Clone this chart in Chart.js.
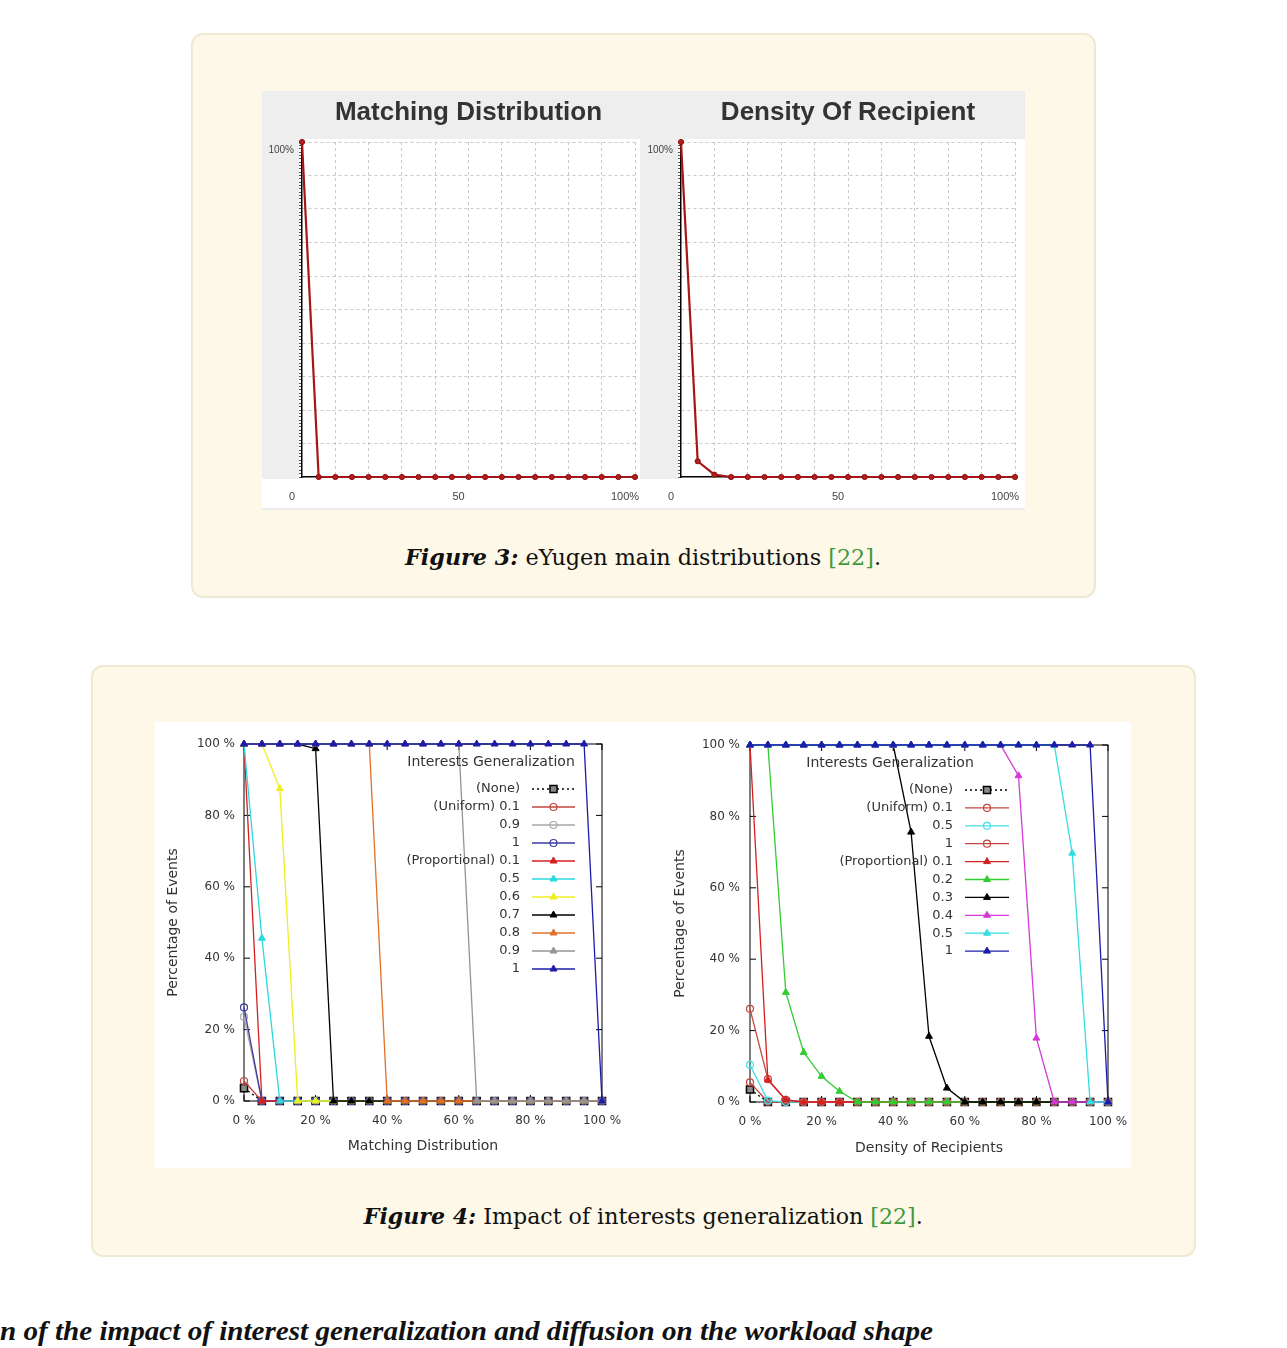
<!DOCTYPE html>
<html>
<head>
<meta charset="utf-8">
<title>eYugen distributions / interests generalization</title>
<script src="https://cdn.jsdelivr.net/npm/chart.js@4.4.1/dist/chart.umd.min.js"></script>
<style>
  html, body { margin: 0; padding: 0; background: #fff; }
  body { position: relative; width: 1287px; height: 1348px; overflow: hidden; }
  .box { position: absolute; box-sizing: border-box; background: #fdf8e7; border: 2px solid #efe9d3; border-radius: 12px; }
  .shot { position: absolute; }
  canvas { position: absolute; }
  .caption { position: absolute; text-align: center; font-family: "DejaVu Serif", serif; font-size: 22px; line-height: 28px; color: #111; white-space: nowrap; }
  .caption .fit { display: inline-block; transform-origin: center center; }
  .caption b { font-style: italic; }
  .ref { color: #3e9a3e; }
  .cut { position: absolute; left: 0; top: 1316px; font-family: "Liberation Serif", serif; font-weight: bold; font-style: italic; font-size: 27px; line-height: 30px; color: #111; white-space: nowrap; display: inline-block; transform-origin: left center; }
</style>
</head>
<body>

<div class="box" style="left:191px;top:33px;width:905px;height:565px"></div>
<div class="shot" style="left:262px;top:91px;width:763px;height:419px;background:#eeeeee"></div>
<canvas id="mainMatching" width="378" height="419" style="left:262px;top:91px"></canvas>
<canvas id="mainDensity" width="385" height="419" style="left:640px;top:91px"></canvas>
<div class="caption" style="left:191px;width:905px;top:543px"><span class="fit" data-w="476"><b>Figure 3:</b> eYugen main distributions <span class="ref">[22]</span>.</span></div>

<div class="box" style="left:91px;top:665px;width:1105px;height:592px"></div>
<div class="shot" style="left:155px;top:722px;width:976px;height:446px;background:#ffffff"></div>
<canvas id="genMatching" width="488" height="446" style="left:155px;top:722px"></canvas>
<canvas id="genDensity" width="488" height="446" style="left:643px;top:722px"></canvas>
<div class="caption" style="left:91px;width:1105px;top:1202px"><span class="fit" data-w="559"><b>Figure 4:</b> Impact of interests generalization <span class="ref">[22]</span>.</span></div>

<span class="cut" data-w="933">n of the impact of interest generalization and diffusion on the workload shape</span>

<script>
// x positions (percent) of every sample
const xSteps = [0, 5, 10, 15, 20, 25, 30, 35, 40, 45, 50, 55, 60, 65, 70, 75, 80, 85, 90, 95, 100];

// Figure 3 - eYugen main distributions
const mainMatching = [100, 0, 0, 0, 0, 0, 0, 0, 0, 0, 0, 0, 0, 0, 0, 0, 0, 0, 0, 0, 0];
const mainDensity  = [100, 4.7, 0.7, 0, 0, 0, 0, 0, 0, 0, 0, 0, 0, 0, 0, 0, 0, 0, 0, 0, 0];

// Figure 4 (left) - Matching Distribution
const matchLabels = ["(None)", "(Uniform) 0.1", "0.9", "1", "(Proportional) 0.1", "0.5", "0.6", "0.7", "0.8", "0.9", "1"];
const matchNone   = [3.6, 0, 0, 0, 0, 0, 0, 0, 0, 0, 0, 0, 0, 0, 0, 0, 0, 0, 0, 0, 0];
const matchUni01  = [5.6, 0, 0, 0, 0, 0, 0, 0, 0, 0, 0, 0, 0, 0, 0, 0, 0, 0, 0, 0, 0];
const matchUni09  = [23.6, 0, 0, 0, 0, 0, 0, 0, 0, 0, 0, 0, 0, 0, 0, 0, 0, 0, 0, 0, 0];
const matchUni1   = [26.2, 0, 0, 0, 0, 0, 0, 0, 0, 0, 0, 0, 0, 0, 0, 0, 0, 0, 0, 0, 0];
const matchProp01 = [100, 0, 0, 0, 0, 0, 0, 0, 0, 0, 0, 0, 0, 0, 0, 0, 0, 0, 0, 0, 0];
const matchProp05 = [100, 45.6, 0, 0, 0, 0, 0, 0, 0, 0, 0, 0, 0, 0, 0, 0, 0, 0, 0, 0, 0];
const matchProp06 = [100, 100, 87.5, 0, 0, 0, 0, 0, 0, 0, 0, 0, 0, 0, 0, 0, 0, 0, 0, 0, 0];
const matchProp07 = [100, 100, 100, 100, 98.7, 0, 0, 0, 0, 0, 0, 0, 0, 0, 0, 0, 0, 0, 0, 0, 0];
const matchProp08 = [100, 100, 100, 100, 100, 100, 100, 100, 0, 0, 0, 0, 0, 0, 0, 0, 0, 0, 0, 0, 0];
const matchProp09 = [100, 100, 100, 100, 100, 100, 100, 100, 100, 100, 100, 100, 100, 0, 0, 0, 0, 0, 0, 0, 0];
const matchProp1  = [100, 100, 100, 100, 100, 100, 100, 100, 100, 100, 100, 100, 100, 100, 100, 100, 100, 100, 100, 100, 0];

// Figure 4 (right) - Density of Recipients
const densLabels = ["(None)", "(Uniform) 0.1", "0.5", "1", "(Proportional) 0.1", "0.2", "0.3", "0.4", "0.5", "1"];
const densNone   = [3.5, 0, 0, 0, 0, 0, 0, 0, 0, 0, 0, 0, 0, 0, 0, 0, 0, 0, 0, 0, 0];
const densUni01  = [5.5, 0, 0, 0, 0, 0, 0, 0, 0, 0, 0, 0, 0, 0, 0, 0, 0, 0, 0, 0, 0];
const densUni05  = [10.4, 0.4, 0, 0, 0, 0, 0, 0, 0, 0, 0, 0, 0, 0, 0, 0, 0, 0, 0, 0, 0];
const densUni1   = [26.1, 6.4, 0.6, 0, 0, 0, 0, 0, 0, 0, 0, 0, 0, 0, 0, 0, 0, 0, 0, 0, 0];
const densProp01 = [100, 6.2, 0.6, 0, 0, 0, 0, 0, 0, 0, 0, 0, 0, 0, 0, 0, 0, 0, 0, 0, 0];
const densProp02 = [100, 100, 30.7, 13.9, 7.2, 3.0, 0, 0, 0, 0, 0, 0, 0, 0, 0, 0, 0, 0, 0, 0, 0];
const densProp03 = [100, 100, 100, 100, 100, 100, 100, 100, 100, 75.6, 18.4, 3.9, 0, 0, 0, 0, 0, 0, 0, 0, 0];
const densProp04 = [100, 100, 100, 100, 100, 100, 100, 100, 100, 100, 100, 100, 100, 100, 100, 91.4, 17.9, 0, 0, 0, 0];
const densProp05 = [100, 100, 100, 100, 100, 100, 100, 100, 100, 100, 100, 100, 100, 100, 100, 100, 100, 100, 69.7, 0, 0];
const densProp1  = [100, 100, 100, 100, 100, 100, 100, 100, 100, 100, 100, 100, 100, 100, 100, 100, 100, 100, 100, 100, 0];

const yTickStep = 20;

// styles (kept apart from the values)
const matchColors = ["#000000", "#c4453f", "#a8a8a8", "#3b3b9e", "#d42020", "#2ad8e0", "#eeee22", "#000000", "#e0702a", "#959595", "#1c1ca8"];
const matchMarks  = ["square", "ring", "ring", "ring", "tri", "tri", "tri", "tri", "tri", "tri", "tri"];
const densColors  = ["#000000", "#c4453f", "#44dde8", "#c4453f", "#d42020", "#33cc33", "#000000", "#d43ad8", "#33dde0", "#1c1ca8"];
const densMarks   = ["square", "ring", "ring", "ring", "tri", "tri", "tri", "tri", "tri", "tri"];

const GNU_FONT = "'DejaVu Sans', sans-serif";
const JAVA_FONT = "'Liberation Sans', Arial, sans-serif";

function toPoints(values) {
  return values.map((v, i) => ({ x: xSteps[i], y: v }));
}

// gray title band + white plot paper for the eYugen screenshots
const paperPlugin = {
  id: "paper",
  beforeDraw(chart) {
    const { ctx, chartArea: a, width, height } = chart;
    ctx.save();
    ctx.fillStyle = "#ffffff";
    ctx.fillRect(a.left - 3, a.top - 3, width - a.left + 3, height - a.top);
    ctx.fillRect(0, a.bottom + 2, width, height - a.bottom - 4);
    ctx.restore();
  }
};

// gnuplot style frame with inward ticks on all four sides
const framePlugin = {
  id: "gnuFrame",
  beforeDatasetsDraw(chart) {
    const { ctx, chartArea: a, scales: { x, y } } = chart;
    const t = 6;
    ctx.save();
    ctx.strokeStyle = "#000";
    ctx.lineWidth = 1;
    ctx.strokeRect(a.left, a.top, a.right - a.left, a.bottom - a.top);
    ctx.beginPath();
    y.ticks.forEach(tk => {
      const py = y.getPixelForValue(tk.value);
      ctx.moveTo(a.left, py); ctx.lineTo(a.left + t, py);
      ctx.moveTo(a.right, py); ctx.lineTo(a.right - t, py);
    });
    x.ticks.forEach(tk => {
      const px = x.getPixelForValue(tk.value);
      ctx.moveTo(px, a.bottom); ctx.lineTo(px, a.bottom - t);
      ctx.moveTo(px, a.top); ctx.lineTo(px, a.top + t);
    });
    ctx.stroke();
    ctx.restore();
  }
};

// gnuplot key: right aligned labels, sample line on the right
const keyPlugin = {
  id: "gnuKey",
  afterDatasetsDraw(chart, args, opts) {
    const { ctx, chartArea: a } = chart;
    ctx.save();
    ctx.fillStyle = "#333";
    ctx.textBaseline = "middle";
    ctx.textAlign = "center";
    ctx.font = "14px " + GNU_FONT;
    ctx.fillText(opts.title, a.left + opts.titleX, a.top + opts.titleY);
    ctx.font = "13px " + GNU_FONT;
    chart.data.datasets.forEach((ds, i) => {
      const y = a.top + opts.rowY + i * opts.rowDy;
      const x0 = a.left + opts.lineX0, x1 = a.left + opts.lineX1;
      ctx.textAlign = "right";
      ctx.fillStyle = "#333";
      ctx.fillText(ds.label, a.left + opts.textRight, y);
      ctx.strokeStyle = ds.borderColor;
      ctx.lineWidth = ds.borderWidth;
      ctx.setLineDash(ds.borderDash || []);
      ctx.beginPath(); ctx.moveTo(x0, y); ctx.lineTo(x1, y); ctx.stroke();
      ctx.setLineDash([]);
      ctx.fillStyle = ds.pointBackgroundColor;
      ctx.strokeStyle = ds.pointBorderColor;
      ctx.lineWidth = ds.pointBorderWidth;
      Chart.helpers.drawPoint(ctx, { pointStyle: ds.pointStyle, radius: ds.pointRadius, borderWidth: ds.pointBorderWidth, rotation: 0 }, (x0 + x1) / 2, y);
    });
    ctx.restore();
  }
};

function markerStyle(kind, color) {
  if (kind === "square") return { pointStyle: "rect", pointRadius: 5, pointBackgroundColor: "#8a8a8a", pointBorderColor: "#000", pointBorderWidth: 1.5 };
  if (kind === "ring") return { pointStyle: "circle", pointRadius: 3.5, pointBackgroundColor: "rgba(255,255,255,0)", pointBorderColor: color, pointBorderWidth: 1.2 };
  return { pointStyle: "triangle", pointRadius: 4, pointBackgroundColor: color, pointBorderColor: color, pointBorderWidth: 1 };
}

function mainChart(id, title, values, box) {
  return new Chart(document.getElementById(id), {
    type: "line",
    data: {
      datasets: [{
        data: toPoints(values),
        borderColor: "#a51616",
        borderWidth: 2.2,
        pointRadius: 2.6,
        pointBackgroundColor: "#b51c1c",
        pointBorderColor: "#8a1010",
        pointBorderWidth: 1,
        tension: 0,
        clip: 4
      }]
    },
    options: {
      responsive: false,
      animation: false,
      events: [],
      layout: { padding: { left: 0, right: box.right, top: 0, bottom: 0 } },
      plugins: {
        legend: { display: false },
        tooltip: { enabled: false },
        title: {
          display: true, text: title, fullSize: false, color: "#333",
          font: { family: JAVA_FONT, size: 26, weight: "bold" },
          padding: { top: 6, bottom: 13.8 }
        }
      },
      scales: {
        x: {
          type: "linear", min: 0, max: 100,
          ticks: {
            stepSize: 10, autoSkip: false, maxRotation: 0, labelOffset: -10, padding: 13,
            color: "#444", font: { family: JAVA_FONT, size: 11 },
            callback: v => v === 0 ? "0" : v === 50 ? "50" : v === 100 ? "100%" : ""
          },
          grid: { color: c => (c.tick && c.tick.value > 0) ? "#c8c8c8" : "rgba(0,0,0,0)", drawTicks: false, lineWidth: 1 },
          border: { color: "#000", width: 1.5, dash: [3, 3] },
          afterFit: s => { s.height = box.xAxisH; s.paddingLeft = 0; s.paddingRight = 0; }
        },
        y: {
          min: 0, max: 100,
          ticks: {
            stepSize: 1, maxTicksLimit: 101, autoSkip: false, labelOffset: 8, padding: 5,
            color: "#444", font: { family: JAVA_FONT, size: 10 },
            callback: v => v === 100 ? "100%" : ""
          },
          grid: {
            color: c => (c.tick && c.tick.value > 0 && c.tick.value % 10 === 0) ? "#c8c8c8" : "rgba(0,0,0,0)",
            tickColor: "#555", tickLength: 3, drawTicks: true, lineWidth: 1
          },
          border: { color: "#000", width: 1.5, dash: [3, 3] },
          afterFit: s => { s.width = box.yAxisW; s.paddingTop = 0; s.paddingBottom = 0; }
        }
      }
    },
    plugins: [paperPlugin]
  });
}

function gnuChart(id, labels, series, colors, marks, xTitle, box, key) {
  const n = series.length;
  const datasets = series.map((vals, i) => Object.assign({
    label: labels[i],
    data: toPoints(vals),
    borderColor: colors[i],
    borderWidth: 1.3,
    borderDash: marks[i] === "square" ? [2, 3] : [],
    tension: 0,
    clip: 8,
    order: n - i
  }, markerStyle(marks[i], colors[i])));

  const tickFont = { family: GNU_FONT, size: 12 };
  const titleFont = { family: GNU_FONT, size: 14 };
  return new Chart(document.getElementById(id), {
    type: "line",
    data: { datasets },
    options: {
      responsive: false,
      animation: false,
      events: [],
      layout: { padding: { left: 0, right: box.right, top: box.top, bottom: 0 } },
      plugins: { legend: { display: false }, tooltip: { enabled: false }, gnuKey: key },
      scales: {
        x: {
          type: "linear", min: 0, max: 100,
          ticks: { stepSize: yTickStep, maxRotation: 0, padding: 13, color: "#333", font: tickFont, callback: v => v + " %" },
          grid: { display: false, drawTicks: false },
          border: { display: false },
          title: { display: true, text: xTitle, color: "#333", font: titleFont, padding: { top: 0, bottom: box.xTitlePad } },
          afterFit: s => { s.height = box.xAxisH; s.paddingLeft = 0; s.paddingRight = 0; }
        },
        y: {
          min: 0, max: 100,
          ticks: { stepSize: yTickStep, padding: box.yTickPad, color: "#333", font: tickFont, callback: v => v + " %" },
          grid: { display: false, drawTicks: false },
          border: { display: false },
          title: { display: true, text: "Percentage of Events", color: "#333", font: titleFont, padding: { top: box.yTitlePad, bottom: 0 } },
          afterFit: s => { s.width = box.yAxisW; s.paddingTop = 0; s.paddingBottom = 0; }
        }
      }
    },
    plugins: [framePlugin, keyPlugin]
  });
}

mainChart("mainMatching", "Matching Distribution", mainMatching, { right: 2, xAxisH: 33, yAxisW: 40 });
mainChart("mainDensity", "Density Of Recipient", mainDensity, { right: 10, xAxisH: 33, yAxisW: 41 });

gnuChart("genMatching", matchLabels,
  [matchNone, matchUni01, matchUni09, matchUni1, matchProp01, matchProp05, matchProp06, matchProp07, matchProp08, matchProp09, matchProp1],
  matchColors, matchMarks, "Matching Distribution",
  { top: 22, right: 41, yAxisW: 89, xAxisH: 67, yTitlePad: 10, xTitlePad: 13, yTickPad: 9 },
  { title: "Interests Generalization", titleX: 247, titleY: 18, textRight: 276, lineX0: 288, lineX1: 331, rowY: 45, rowDy: 18 });

gnuChart("genDensity", densLabels,
  [densNone, densUni01, densUni05, densUni1, densProp01, densProp02, densProp03, densProp04, densProp05, densProp1],
  densColors, densMarks, "Density of Recipients",
  { top: 23, right: 23, yAxisW: 107, xAxisH: 66, yTitlePad: 29, xTitlePad: 11, yTickPad: 10 },
  { title: "Interests Generalization", titleX: 140, titleY: 18, textRight: 203, lineX0: 215, lineX1: 259, rowY: 45, rowDy: 17.9 });

// stretch captions to the measured widths of the page
document.querySelectorAll("[data-w]").forEach(el => {
  const w = el.getBoundingClientRect().width;
  if (w > 0) el.style.transform = "scaleX(" + (Number(el.dataset.w) / w).toFixed(4) + ")";
});
</script>
</body>
</html>
